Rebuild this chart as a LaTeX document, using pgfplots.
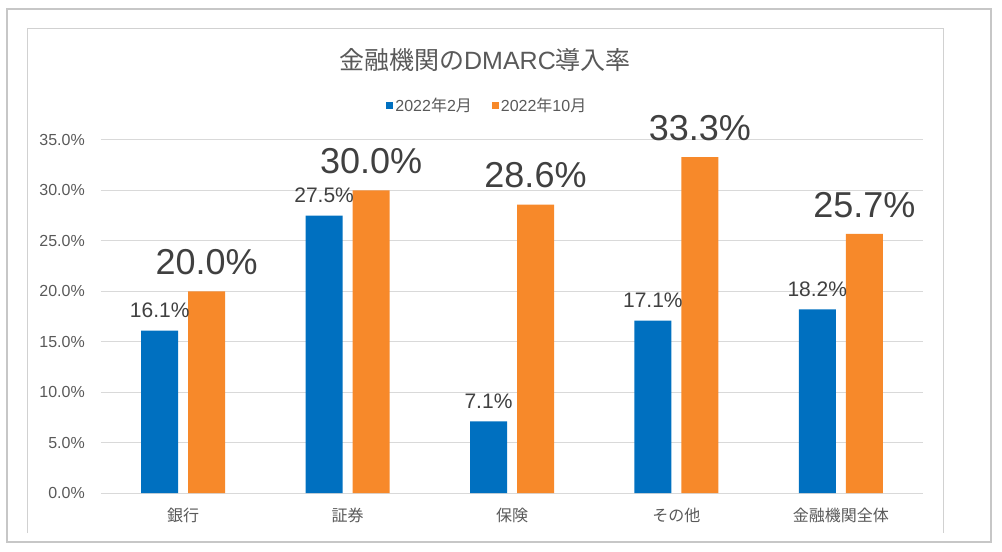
\documentclass[border=0pt]{standalone}
\usepackage{pgfplots}
\usepackage{pgfplotstable}
\pgfplotsset{compat=1.18}
\usepackage{fontspec}
\setmainfont{Liberation Sans}
\newfontfamily\cjk{Noto Sans CJK JP}

\definecolor{feb}{HTML}{0070C0}
\definecolor{oct}{HTML}{F7892A}
\definecolor{txt}{HTML}{595959}
\definecolor{lbl}{HTML}{404040}
\definecolor{gridc}{HTML}{D9D9D9}
\newcommand\fs[1]{\fontsize{#1bp}{#1bp}\selectfont}

% DMARC導入率 (%)
\pgfplotstableread{
x y
0 16.1
1 27.5
2 7.1
3 17.1
4 18.2
}\febdata
\pgfplotstableread{
x y
0 20.0
1 30.0
2 28.6
3 33.3
4 25.7
}\octdata

\begin{document}
\begin{tikzpicture}
	% page and frames
	\path (-101bp,-59bp) rectangle (901bp,493bp);
	\draw[color=black!22, line width=1.2bp] (-94bp,-49bp) rectangle (890bp,484bp);
	\draw[color=black!18, line width=1bp] (-73bp,-40bp) -- (-73bp,464bp) -- (842bp,464bp) -- (842bp,-40bp);
	\node[anchor=base, text=txt, inner sep=0pt] at (384bp,423bp)
		{\fs{25}{\cjk 金融機関の}DMARC{\cjk 導入率}};

	\begin{axis}[
	at={(0bp,0bp)},
	anchor=south west,
	scale only axis,
	width=822bp,
	height=353bp,
	clip=false,
	ybar=10bp,
	bar width=37bp,
	xmin=-0.5,
	xmax=4.5,
	ymin=0,
	ymax=35,
	xtick={0,1,2,3,4},
	xticklabels={銀行,証券,保険,その他,金融機関全体},
	ytick={0,5,...,35},
	/pgf/number format/assume math mode=true,
	yticklabel={\pgfmathprintnumber[fixed,fixed zerofill,precision=1]{\tick}\%},
	axis line style={draw=none},
	major tick length=0pt,
	ymajorgrids,
	grid style={color=gridc, line width=1bp},
	xticklabel style={font=\cjk\fs{16}, text=txt, anchor=center, inner sep=0pt, yshift=-22bp},
	yticklabel style={font=\fs{16}, text=txt, anchor=east, inner sep=0pt, xshift=-16bp},
	legend columns=2,
	legend style={at={(0.470,1.099)}, anchor=center, draw=none, fill=none,
		font=\fs{16}, text=txt,
		/tikz/every even column/.append style={column sep=18bp}},
	legend image code/.code={\fill[#1, draw=none] (0bp,-3.5bp) rectangle (7bp,3.5bp);},
	nodes near coords={\pgfmathprintnumber[fixed,fixed zerofill,precision=1]{\pgfplotspointmeta}\%},
	]
	\addplot[fill=feb, draw=none,
		every node near coord/.append style={font=\fs{21}, text=lbl, anchor=south, inner sep=0pt, yshift=13bp}]
		table {\febdata};
	\addplot[fill=oct, draw=none,
		every node near coord/.append style={font=\fs{36}, text=lbl, anchor=south, inner sep=0pt, yshift=16bp}]
		table {\octdata};
	\legend{2022{\cjk 年}2{\cjk 月}, 2022{\cjk 年}10{\cjk 月}}
	\end{axis}
\end{tikzpicture}
\end{document}
